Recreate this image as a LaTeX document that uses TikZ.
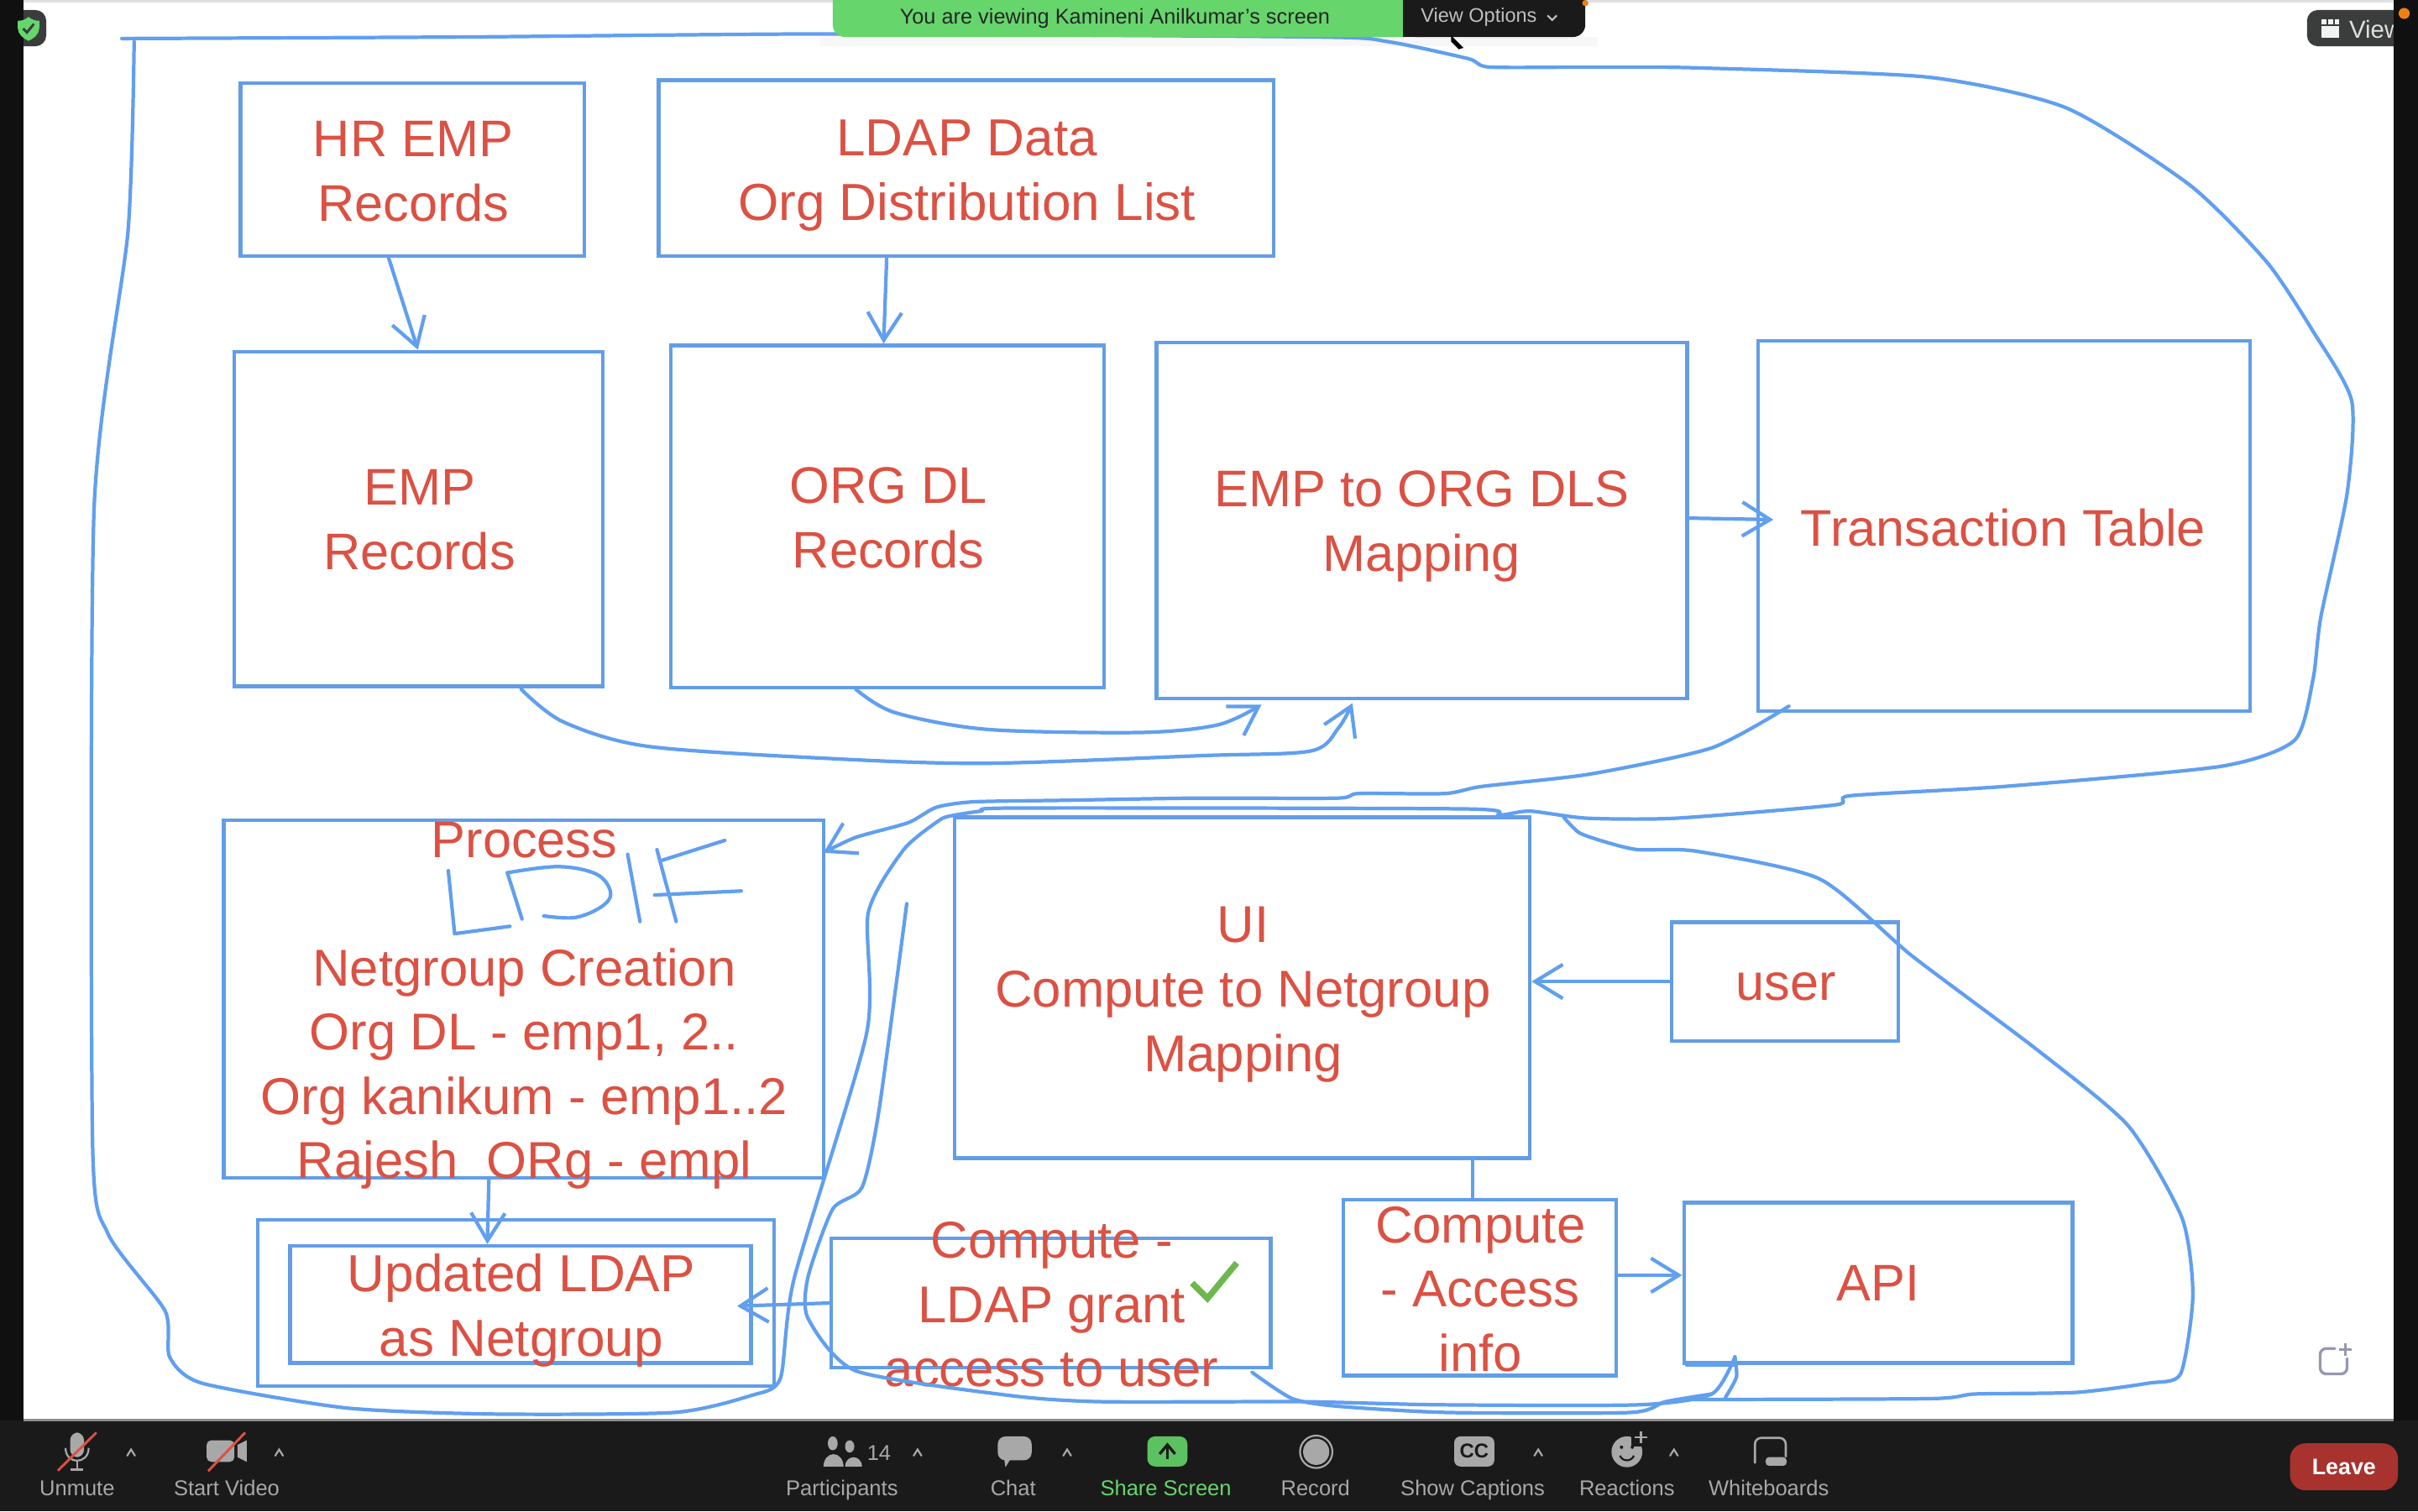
\documentclass[tikz,border=0pt]{standalone}
\usepackage{fontspec}
\setmainfont{Liberation Sans}
\usetikzlibrary{arrows.meta}
\definecolor{inkblue}{HTML}{619FEF}
\definecolor{boxblue}{HTML}{639DE6}
\definecolor{redtxt}{HTML}{DB5143}
\definecolor{stripblack}{HTML}{101010}
\definecolor{barblack}{HTML}{1A1A1A}
\definecolor{icongray}{HTML}{A8A8A8}
\definecolor{zoomgreen}{HTML}{66D66C}
\definecolor{leavered}{HTML}{A8322D}
\definecolor{okgreen}{HTML}{6DB84E}
\definecolor{badge}{HTML}{3B3D3D}
\tikzset{
  bx/.style={draw=boxblue,line width=1.2pt,inner sep=0pt,rectangle},
  lbl/.style={text=redtxt,align=center,inner sep=0pt,font=\fontsize{16.7}{21}\selectfont},
  ink/.style={draw=inkblue,line width=1.15pt,line cap=round,line join=round},
  inkarrow/.style={ink,-{Straight Barb[length=9pt,width=11pt,line width=1.15pt]}},
  tool/.style={text=icongray,inner sep=0pt,anchor=base,font=\fontsize{6.95}{9}\selectfont},
  caret/.style={draw=icongray,line width=.6pt,line cap=round},
  icon/.style={fill=icongray,draw=none}
}
\newcommand\bxnode[5]{\node[bx,minimum width={(#4-#2)*0.5pt},minimum height={(#5-#3)*0.5pt}] (#1) at ({(#2+#4)/2},{(#3+#5)/2}) {};}
\newcommand\caretat[2]{\draw[caret] (#1-2.5,#2+2) -- (#1,#2-2) -- (#1+2.5,#2+2);}
\begin{document}
\begin{tikzpicture}[x=0.5pt,y=-0.5pt]
\useasboundingbox (0,0) rectangle (1568,980);
\fill[white] (0,0) rectangle (1568,980);
\fill[black!12] (0,0) rectangle (1568,1.5);
% shadow beneath the banner
\fill[black!3] (532,24) rectangle (1036,30);

% boxes
\bxnode{hr}{156}{54}{379}{166}
\bxnode{ldap}{427}{52}{826}{166}
\bxnode{emp}{152}{228}{391}{445}
\bxnode{org}{435}{224}{716}{446}
\bxnode{map}{750}{222}{1094}{453}
\bxnode{tx}{1140}{221}{1459}{461}
\bxnode{proc}{145}{532}{534}{764}
\bxnode{outer}{167}{791}{502}{899}
\bxnode{upd}{188}{808}{487}{884}
\bxnode{ui}{619}{530}{992}{751}
\bxnode{usr}{1084}{598}{1231}{675}
\bxnode{grant}{539}{803}{824}{887}
\bxnode{acc}{871}{778}{1048}{892}
\bxnode{api}{1092}{780}{1344}{884}

% labels
\node[lbl] (thr) at (268,111) {HR EMP\\Records};
\node[lbl,font=\fontsize{16.9}{21}\selectfont] (tldap) at (627,114) {LDAP Data\\Org Distribution List};
\node[lbl] (temp) at (272,337) {EMP\\Records};
\node[lbl] (torg) at (576,336) {ORG DL\\Records};
\node[lbl] (tmap) at (922,341.5) {EMP to ORG DLS\\Mapping};
\node[lbl] (ttx) at (1299,342) {Transaction Table};
\node[lbl] (tproc) at (340,545) {Process};
\node[lbl,font=\fontsize{16.8}{20.8}\selectfont] (tnet) at (340,693) {Netgroup Creation\\Org DL - emp1, 2..\\Org kanikum - emp1..2\\Rajesh\ \ ORg - empl};
\node[lbl,font=\fontsize{16.9}{21}\selectfont] (tupd) at (338,850) {Updated LDAP\\as Netgroup};
\node[lbl,font=\fontsize{16.8}{21}\selectfont] (tui) at (806,645) {UI\\Compute to Netgroup\\Mapping};
\node[lbl] (tusr) at (1158,640) {user};
\node[lbl,font=\fontsize{16.8}{20.8}\selectfont] (tgrant) at (682,846) {Compute -\\LDAP grant\\access to user};
\node[lbl,font=\fontsize{16.8}{20.8}\selectfont] (tacc) at (960,836) {Compute\\- Access\\info};
\node[lbl] (tapi) at (1218,832) {API};

% connectors
\draw[inkarrow] (252,0 |- hr.south) -- (271,0 |- emp.north);
\draw[inkarrow] (575,0 |- ldap.south) -- (573,0 |- org.north);
\draw[inkarrow] (map.east |- 0,336) -- (1150,337);
\draw[inkarrow] (usr.west) -- (ui.east |- usr.west);
\draw[ink] (955,0 |- ui.south) -- (955,0 |- acc.north);
\draw[inkarrow] (acc.east |- 0,827) -- (api.west |- 0,827);
\draw[inkarrow] (317,0 |- proc.south) -- (316,0 |- upd.north);
\draw[inkarrow] (grant.west |- 0,845) -- (478,847);
\draw[inkarrow] plot[smooth,tension=.5] coordinates {(338,447) (365,468) (420,484) (540,492) (640,495) (780,490) (850,487) (868,472) (877,456)};
\draw[inkarrow] plot[smooth,tension=.5] coordinates {(555,447) (580,462) (640,473) (740,475) (790,470) (818,457)};
\draw[inkarrow] plot[smooth,tension=.4] coordinates {(1160,458) (1110,485) (1031,502) (961,510) (937,514.6) (881,514.6) (867,517.6) (774,517.6) (690,519) (631,520) (607,523.6) (589,533.5) (555,543) (534,553)};

% outer freehand loop
\draw[ink] plot[smooth,tension=.4] coordinates {(79,25) (300,24) (540,22) (855,24) (900,27) (952,38) (966,43.5) (1034,43.5) (1100,44) (1250,50) (1340,70) (1420,120) (1470,170) (1500,215) (1525,260) (1522,320) (1505,400) (1500,440) (1488,480) (1440,497) (1300,510) (1200,516) (1190,522) (1087,530.6) (1029,530.6) (992,526) (972,528.6) (951,524.6) (659,524) (636,526) (617,529) (609,532) (586,551) (563,592) (562,670) (515,829) (506,894) (487,905) (437,916) (318,917) (224,913) (131,897) (110,880) (107,850) (70,800) (60,740) (61,330) (83,150) (87,27)};
% right-hand loop
\draw[ink] plot[smooth,tension=.4] coordinates {(1014,530) (1024,540) (1041,546) (1062,551) (1100,552) (1180,570) (1240,620) (1320,680) (1380,730) (1415,790) (1422,840) (1414,891) (1393,897) (1346,903) (1281,904) (1252,907) (1092,907.6)};
% lower strokes
\draw[ink] plot[smooth,tension=.4] coordinates {(588,586) (570,720) (559,770) (540,784) (524,828) (524,855) (555,889) (655,905) (714,909) (844,909) (933,911) (1063,911) (1110,904) (1125,880)};
\draw[ink] plot[smooth,tension=.4] coordinates {(812,890) (838,907) (868,912) (939,916) (1057,916) (1080,909) (1110,904)};
\draw[ink] plot[smooth,tension=.4] coordinates {(1125,880) (1126,893) (1119,906)};
\draw[ink,line width=1.6pt] (1094,885) -- (1125,885);

% LDIF handwriting
\draw[ink] (290.7,564.6) -- (294.8,605.5) -- (330.7,600.7);
\draw[ink] (329,566) -- (338.5,596);
\draw[ink] plot[smooth,tension=.6] coordinates {(352.6,594) (373,595) (390,588) (396,579) (387,567) (362,562) (329,566)};
\draw[ink] (407,554) -- (415,597.6);
\draw[ink] (426,551) -- (438.5,597.6);
\draw[ink] (429,558) -- (470,545);
\draw[ink] (424.5,580.4) -- (480.7,577.8);

% check mark
\draw[okgreen,line width=2pt,line join=miter] (773,832) -- (783,842) -- (802,819);

% side strips, badges
\fill[badge,rounded corners=3.5pt] (6.5,6.5) rectangle (30,30);
\fill[badge,rounded corners=3.5pt] (1496,6.5) rectangle (1561,30);
\fill[stripblack] (0,0) rectangle (15.5,921);
\fill[stripblack] (1552,0) rectangle (1568,921);
\fill[zoomgreen] (18.5,11) .. controls (21,13) and (23,13.5) .. (25.5,13.5) -- (25.5,18) .. controls (25.5,22) and (22,25) .. (18.5,26.5) .. controls (15,25) and (11.5,22) .. (11.5,18) -- (11.5,13.5) .. controls (14,13.5) and (16,13) .. (18.5,11) -- cycle;
\draw[badge,line width=.8pt] (15,18.5) -- (17.5,21) -- (22,15.5);
\fill[white!95!black] (1505.5,17) rectangle (1517,24.5);
\fill[white!95!black] (1505.5,12.5) rectangle (1508.8,16);
\fill[white!95!black] (1509.8,12.5) rectangle (1513,16);
\fill[white!95!black] (1514,12.5) rectangle (1517,16);
\node[text=white!88!black,inner sep=0pt,anchor=west,font=\fontsize{8}{9}\selectfont] (viewbtn) at (1523,19) {View};
\fill[stripblack] (1552,6) rectangle (1568,31);
\fill[orange!70!brown] (1559,8.7) circle[radius=3.6];

% board add icon
\draw[icongray!90!blue,line width=.9pt,line cap=round,rounded corners=2pt] (1514,874.5) -- (1504.5,874.5) -- (1504.5,891) -- (1522,891) -- (1522,881);
\draw[icongray!90!blue,line width=.9pt] (1517,875) -- (1525,875) (1521,871) -- (1521,879);

% top banner
\fill[zoomgreen,rounded corners=4pt] (540,-10) rectangle (930,24);
\fill[barblack,rounded corners=4pt] (910,-10) rectangle (1028,24);
\fill[barblack] (910,-10) rectangle (920,24);
\node[text=black!85,inner sep=0pt,font=\fontsize{6.9}{9}\selectfont] (bannertxt) at (723,12) {You are viewing Kamineni Anilkumar's screen};
\node[text=white!75!black,inner sep=0pt,font=\fontsize{6.4}{9}\selectfont] (viewopt) at (959,11) {View Options};
\draw[white!75!black,line width=.6pt] (1003.5,10) -- (1006.5,13) -- (1009.5,10);
\fill[black] (941,23) -- (949,31) -- (946,32) -- (941,27) -- cycle;
\fill[orange!70!brown] (1028,2) circle[radius=2];

% bottom toolbar
\fill[barblack] (0,921) rectangle (1568,980);
\fill[black!45] (15.5,920) rectangle (1552,921.5);
% mic
\fill[icon,rounded corners=2.5pt] (45.5,929) rectangle (54.5,945);
\draw[icongray,line width=.6pt] (42.5,939) .. controls (42.5,950) and (57.5,950) .. (57.5,939);
\draw[icongray,line width=.6pt] (50,948) -- (50,953) (46,953) -- (54,953);
\draw[redtxt,line width=.8pt] (37.5,953.7) -- (62.5,929);
\caretat{85}{942}
% camera
\fill[icon,rounded corners=1.5pt] (134,934) rectangle (152,948);
\fill[icon] (154,937) -- (160,934) -- (160,948) -- (154,945) -- cycle;
\draw[redtxt,line width=.8pt] (135,954) -- (159,929);
\caretat{181}{942}
% participants
\fill[icon] (540,936) ellipse[x radius=3.2,y radius=4.5];
\fill[icon] (551,938) ellipse[x radius=3,y radius=4];
\fill[icon] (534,951) arc[start angle=180,end angle=360,x radius=6.5,y radius=8] -- cycle;
\fill[icon] (548,951) arc[start angle=180,end angle=360,x radius=5.5,y radius=6] -- cycle;
\node[tool,anchor=center] (pcount) at (570,942) {14};
\caretat{595}{942}
% chat
\fill[icon,rounded corners=2.5pt] (647,931.5) rectangle (669,947);
\fill[icon] (651,945) -- (652,951.5) -- (656,945) -- cycle;
\caretat{692}{942}
% share
\fill[zoomgreen!90!black,rounded corners=2.5pt] (744,931.5) rectangle (770,951);
\draw[barblack,line width=.9pt,-{Straight Barb[length=3pt,width=5pt]}] (757,946) -- (757,935.5);
% record
\draw[icongray,line width=.6pt] (853.5,941.5) circle[radius=10.5];
\fill[icon] (853.5,941.5) circle[radius=8.5];
% cc
\fill[icon,rounded corners=2pt] (943,931.5) rectangle (969,951);
\node[text=barblack,inner sep=0pt,font=\bfseries\fontsize{6.5}{8}\selectfont] (cctxt) at (956,941) {CC};
\caretat{997.5}{942}
% reactions
\fill[icon] (1055,941.5) ellipse[x radius=10,y radius=10];
\fill[barblack] (1051.5,938.5) circle[radius=1.1];
\fill[barblack] (1058.5,938.5) circle[radius=1.1];
\draw[barblack,line width=.6pt] (1050.5,944) .. controls (1052,948) and (1058,948) .. (1059.5,944);
\draw[barblack,line width=1pt] (1059,927) rectangle (1069,937);
\fill[barblack] (1059,927) rectangle (1069,937);
\draw[icongray,line width=.7pt] (1060,932) -- (1068,932) (1064,928) -- (1064,936);
\caretat{1085.5}{942}
% whiteboards
\draw[icongray,line width=.7pt,rounded corners=2pt] (1138,949) -- (1138,932.5) -- (1158,932.5) -- (1158,945);
\fill[icon,rounded corners=1pt] (1145,945) rectangle (1158.5,950.5);
% leave
\fill[leavered,rounded corners=5pt] (1485,936) rectangle (1555,966.5);
\node[text=white,inner sep=0pt,font=\bfseries\fontsize{7.3}{9}\selectfont] (leavetxt) at (1520,951.5) {Leave};
% tool labels
\node[tool] (t1) at (50,970) {Unmute};
\node[tool] (t2) at (147,970) {Start Video};
\node[tool] (t3) at (546,970) {Participants};
\node[tool] (t4) at (657,970) {Chat};
\node[tool,text=zoomgreen] (t5) at (756,970) {Share Screen};
\node[tool] (t6) at (853,970) {Record};
\node[tool] (t7) at (955,970) {Show Captions};
\node[tool] (t8) at (1055,970) {Reactions};
\node[tool] (t9) at (1147,970) {Whiteboards};
\end{tikzpicture}
\end{document}
